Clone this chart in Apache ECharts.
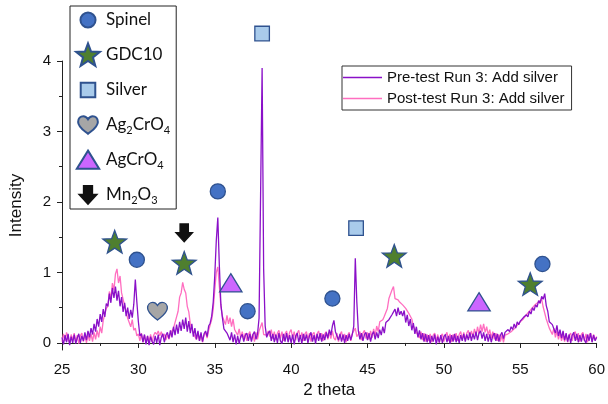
<!DOCTYPE html>
<html>
<head>
<meta charset="utf-8">
<script src="https://cdn.jsdelivr.net/npm/echarts@6/dist/echarts.min.js"></script>
<style>
  html, body { margin: 0; padding: 0; background: #fff; }
  #chart { width: 608px; height: 404px; }
</style>
</head>
<body>
<div id="chart"></div>
<script>
// XRD scans, sampled every 0.1 degree of 2 theta from 25 to 60
const thetaStart = 25.0;
const thetaStep = 0.1;

// Pre-test Run 3: Add silver
const preTest = [
  0.08, -0.02, 0.11, 0.01, 0.13, -0.03, 0.09, 0.00, 0.12, -0.01,
  0.07, 0.13, 0.00, 0.10, 0.03, 0.15, 0.04, 0.17, 0.08, 0.21,
  0.12, 0.27, 0.16, 0.34, 0.23, 0.41, 0.30, 0.48, 0.37, 0.56,
  0.52, 0.70, 0.57, 0.78, 0.64, 0.80, 0.60, 0.74, 0.52, 0.65,
  0.44, 0.57, 0.38, 0.50, 0.34, 0.47, 0.36, 0.55, 0.90, 0.58,
  0.30, 0.10, 0.13, 0.01, 0.12, -0.02, 0.10, -0.03, 0.09, 0.02,
  -0.02, 0.10, 0.00, 0.12, -0.03, 0.08, 0.13, 0.01, 0.11, 0.15,
  0.06, 0.18, 0.08, 0.23, 0.11, 0.26, 0.13, 0.30, 0.17, 0.33,
  0.20, 0.36, 0.16, 0.31, 0.14, 0.27, 0.09, 0.21, 0.05, 0.17,
  0.03, 0.15, 0.02, 0.13, 0.17, 0.09, 0.24, 0.28, 0.38, 0.58,
  0.95, 1.45, 1.78, 1.10, 0.55, 0.36, 0.20, 0.19, 0.14, 0.12,
  0.04, 0.15, 0.01, 0.12, -0.02, 0.10, -0.01, 0.09, 0.12, 0.02,
  0.11, 0.14, 0.03, 0.13, 0.02, 0.12, 0.16, 0.05, 0.13, 0.35,
  2.10, 3.90, 1.05, 0.24, 0.08, 0.14, 0.17, 0.03, 0.13, 0.01,
  0.12, 0.00, 0.14, 0.03, -0.01, 0.13, 0.02, 0.14, 0.01, 0.11,
  0.00, 0.12, -0.02, 0.10, 0.14, 0.01, 0.11, -0.01, 0.13, 0.03,
  0.12, 0.00, 0.10, 0.15, 0.02, 0.11, -0.01, 0.13, 0.03, 0.14,
  0.02, 0.12, 0.04, 0.15, 0.07, 0.19, 0.11, 0.24, 0.32, 0.16,
  0.14, 0.04, 0.13, 0.02, 0.12, 0.00, 0.11, 0.03, 0.13, 0.04,
  0.12, 0.24, 1.20, 0.58, 0.17, 0.05, 0.14, 0.03, 0.12, 0.15,
  0.04, 0.14, 0.02, 0.12, 0.16, 0.05, 0.15, 0.07, 0.19, 0.11,
  0.23, 0.14, 0.29, 0.27, 0.33, 0.34, 0.40, 0.42, 0.48, 0.38,
  0.50, 0.40, 0.45, 0.38, 0.46, 0.29, 0.40, 0.24, 0.34, 0.18,
  0.28, 0.13, 0.23, 0.08, 0.18, 0.05, 0.14, 0.02, 0.13, 0.01,
  0.11, -0.01, 0.10, 0.02, 0.12, -0.02, 0.09, 0.01, 0.11, 0.00,
  0.09, 0.12, 0.01, 0.10, -0.01, 0.11, 0.02, 0.13, 0.01, 0.10,
  0.00, 0.11, 0.03, 0.13, 0.02, 0.12, 0.04, 0.15, 0.03, 0.13,
  0.05, 0.16, 0.04, 0.14, 0.17, 0.06, 0.15, 0.03, 0.13, 0.02,
  0.12, 0.01, 0.10, 0.14, 0.03, 0.13, 0.02, 0.11, 0.15, 0.06,
  0.15, 0.13, 0.19, 0.16, 0.23, 0.19, 0.27, 0.21, 0.30, 0.26,
  0.31, 0.30, 0.36, 0.34, 0.40, 0.37, 0.45, 0.41, 0.50, 0.46,
  0.54, 0.51, 0.60, 0.56, 0.66, 0.62, 0.70, 0.53, 0.45, 0.30,
  0.30, 0.26, 0.25, 0.14, 0.25, 0.10, 0.19, 0.07, 0.17, 0.04,
  0.14, 0.02, 0.12, 0.00, 0.11, 0.15, 0.03, 0.13, 0.01, 0.11,
  0.02, 0.13, 0.04, 0.00, 0.12, 0.03, 0.14, 0.01, 0.11, 0.03,
  0.08
];

// Post-test Run 3: Add silver
const postTest = [
  0.02, 0.13, 0.03, 0.15, 0.05, 0.00, 0.12, 0.04, 0.14, 0.01,
  0.11, -0.01, 0.10, 0.14, 0.02, 0.12, 0.00, 0.11, 0.03, 0.13,
  0.02, 0.15, 0.05, 0.18, 0.08, 0.23, 0.14, 0.32, 0.33, 0.49,
  0.52, 0.73, 0.63, 0.85, 0.75, 0.98, 1.05, 0.85, 0.95, 0.71,
  0.71, 0.53, 0.52, 0.35, 0.36, 0.23, 0.33, 0.18, 0.21, 0.10,
  0.13, 0.03, 0.14, 0.01, 0.11, -0.01, 0.10, 0.02, 0.12, 0.01,
  0.11, 0.15, 0.12, 0.17, 0.10, 0.16, 0.08, 0.13, 0.04, 0.12,
  0.05, 0.13, 0.11, 0.21, 0.22, 0.37, 0.45, 0.65, 0.71, 0.86,
  0.76, 0.71, 0.52, 0.44, 0.27, 0.25, 0.13, 0.15, 0.05, 0.14,
  0.03, 0.12, 0.01, 0.11, 0.15, 0.07, 0.18, 0.18, 0.33, 0.48,
  0.75, 1.00, 1.08, 0.80, 0.52, 0.38, 0.36, 0.26, 0.39, 0.27,
  0.36, 0.23, 0.34, 0.19, 0.21, 0.11, 0.20, 0.07, 0.16, 0.05,
  0.14, 0.03, 0.12, 0.16, 0.04, 0.13, 0.02, 0.15, 0.05, 0.17,
  0.15, 0.29, 0.12, 0.13, 0.11, 0.17, 0.09, 0.19, 0.06, 0.16,
  0.04, 0.14, 0.18, 0.06, 0.16, 0.03, 0.13, 0.17, 0.05, 0.15,
  0.19, 0.07, 0.16, 0.04, 0.14, 0.18, 0.06, 0.15, 0.03, 0.13,
  0.16, 0.05, 0.14, 0.02, 0.12, 0.15, 0.04, 0.13, 0.17, 0.05,
  0.14, 0.03, 0.13, 0.16, 0.05, 0.15, 0.06, 0.17, 0.07, 0.04,
  0.14, 0.02, 0.12, 0.16, 0.04, 0.13, 0.01, 0.11, 0.15, 0.03,
  0.13, 0.17, 0.21, 0.09, 0.12, 0.16, 0.04, 0.14, 0.18, 0.06,
  0.15, 0.05, 0.17, 0.07, 0.20, 0.10, 0.24, 0.16, 0.30, 0.30,
  0.33, 0.38, 0.40, 0.49, 0.63, 0.65, 0.75, 0.80, 0.63, 0.61,
  0.61, 0.58, 0.57, 0.54, 0.54, 0.49, 0.47, 0.42, 0.40, 0.34,
  0.24, 0.25, 0.15, 0.17, 0.07, 0.16, 0.04, 0.14, 0.02, 0.12,
  0.03, 0.13, 0.01, 0.11, 0.14, 0.03, 0.12, 0.00, 0.10, 0.13,
  0.02, 0.11, 0.15, 0.03, 0.13, 0.01, 0.12, 0.04, 0.14, 0.03,
  0.12, 0.16, 0.05, 0.15, 0.04, 0.14, 0.18, 0.07, 0.17, 0.09,
  0.20, 0.10, 0.23, 0.13, 0.26, 0.16, 0.27, 0.15, 0.23, 0.11,
  0.19, 0.07, 0.16, 0.05, 0.14, 0.03, 0.12, 0.02, 0.11, 0.01,
  0.11, 0.09, 0.13, 0.12, 0.16, 0.16, 0.20, 0.21, 0.25, 0.26,
  0.30, 0.31, 0.34, 0.37, 0.40, 0.42, 0.45, 0.47, 0.50, 0.52,
  0.55, 0.55, 0.58, 0.59, 0.62, 0.51, 0.49, 0.34, 0.33, 0.21,
  0.23, 0.12, 0.21, 0.08, 0.17, 0.05, 0.15, 0.03, 0.13, 0.02,
  0.12, 0.01, 0.11, 0.14, 0.03, 0.13, 0.16, 0.04, 0.14, 0.02,
  0.12, 0.15, 0.03, 0.13, 0.01, 0.11, 0.14, 0.02, 0.12, 0.04,
  0.09
];

// Phase markers: [2 theta, height]
const spinelMarks = [[29.9, 1.18], [35.2, 2.15], [37.15, 0.45], [42.7, 0.63], [56.45, 1.12]];
const gdcMarks = [[28.45, 1.43], [33.0, 1.13], [46.75, 1.23], [55.65, 0.83]];
const silverMarks = [[38.1, 4.39], [44.25, 1.63]];
const ag2cro4Marks = [[31.25, 0.45]];
const agcro4Marks = [[36.05, 0.85], [52.3, 0.58]];
const mn2o3Marks = [[33.0, 1.56]];

const xTicks = [25, 30, 35, 40, 45, 50, 55, 60];
const yTicks = [0, 1, 2, 3, 4];
const yMinorTicks = [0.5, 1.5, 2.5, 3.5];

const preName = 'Pre-test Run 3: Add silver';
const postName = 'Post-test Run 3: Add silver';

// Symbols drawn inside a common 100x100 frame so one size fits all
const frame = 'M0 0M100 100';
const ICONS = {
  circle: 'path://' + frame + 'M79 50A29 29 0 1 1 21 50A29 29 0 1 1 79 50Z',
  star: 'path://' + frame + 'M50 5L61.8 36.8L95.6 38.2L69 59.2L78.2 91.8L50 73L21.8 91.8L31 59.2L4.4 38.2L38.2 36.8Z',
  square: 'path://' + frame + 'M22 22H78V78H22Z',
  heart: 'path://' + frame + 'M50 84C36 72 12 58 12 38C12 24 21 16 32 16C40 16 46 21 50 28C54 21 60 16 68 16C79 16 88 24 88 38C88 58 64 72 50 84Z',
  triangle: 'path://' + frame + 'M50 14L93 84L7 84Z',
  arrow: 'path://' + frame + 'M34 15H66V49H82L50 84L18 49H34Z'
};
// Plain stroke sample for the scan legend
const lineIcon = 'path://M0 0H39V1.6H0Z';

const edge = '#2F528F';
const phases = [
  { name: 'Spinel', data: spinelMarks, icon: ICONS.circle, fill: '#4472C4', stroke: edge, label: 'Spinel' },
  { name: 'GDC10', data: gdcMarks, icon: ICONS.star, fill: '#4F7F2F', stroke: edge, label: 'GDC10' },
  { name: 'Silver', data: silverMarks, icon: ICONS.square, fill: '#A9CBEB', stroke: edge, label: 'Silver' },
  { name: 'Ag2CrO4', data: ag2cro4Marks, icon: ICONS.heart, fill: '#A6A6A6', stroke: edge, label: '{n|Ag}{s|2}{n|CrO}{s|4}' },
  { name: 'AgCrO4', data: agcro4Marks, icon: ICONS.triangle, fill: '#CC66FF', stroke: edge, label: '{n|AgCrO}{s|4}' },
  { name: 'Mn2O3', data: mn2o3Marks, icon: ICONS.arrow, fill: '#111111', stroke: '#111111', label: '{n|Mn}{s|2}{n|O}{s|3}' }
];

function toPairs(values) {
  return values.map((v, i) => [+(thetaStart + i * thetaStep).toFixed(2), v]);
}

const chart = echarts.init(document.getElementById('chart'), null, { renderer: 'canvas' });

const axisColor = '#222';
const labelFont = 'Liberation Sans, Arial, sans-serif';
const preColor = '#8A10C8';
const postColor = '#FF6EC0';

const option = {
  backgroundColor: '#fff',
  animation: false,
  grid: { left: 61, right: 9, top: 61, bottom: 54 },
  xAxis: {
    type: 'value', min: 25, max: 60, interval: 5,
    name: '2 theta', nameLocation: 'middle', nameGap: 29,
    nameTextStyle: { fontFamily: labelFont, fontSize: 17, color: '#111' },
    axisLine: { lineStyle: { color: axisColor, width: 1 } },
    axisTick: { length: 5, lineStyle: { color: axisColor } },
    minorTick: { show: true, splitNumber: 2, length: 3, lineStyle: { color: axisColor } },
    axisLabel: { margin: 12, fontFamily: labelFont, fontSize: 15, color: '#111', customValues: xTicks },
    splitLine: { show: false }
  },
  yAxis: [
    {
      type: 'value', min: -0.1, max: 4,
      name: 'Intensity', nameLocation: 'middle', nameGap: 37,
      nameTextStyle: { fontFamily: labelFont, fontSize: 17, color: '#111' },
      axisLine: { show: true, lineStyle: { color: axisColor, width: 1 } },
      axisTick: { show: true, length: 5, customValues: yTicks, lineStyle: { color: axisColor } },
      axisLabel: { margin: 11, fontFamily: labelFont, fontSize: 15, color: '#111', customValues: yTicks },
      splitLine: { show: false }
    },
    {
      type: 'value', min: -0.1, max: 4, position: 'left',
      axisLine: { show: false },
      axisTick: { show: true, length: 3, customValues: yMinorTicks, lineStyle: { color: axisColor } },
      axisLabel: { show: false },
      splitLine: { show: false }
    }
  ],
  legend: [
    {
      orient: 'vertical', left: 70, top: 6, padding: [0, 6, 0, 4],
      itemWidth: 26, itemHeight: 26, itemGap: 7,
      borderColor: '#222', borderWidth: 1,
      selectedMode: false,
      data: phases.map(p => ({ name: p.name, icon: p.icon })),
      formatter: name => phases.find(p => p.name === name).label,
      textStyle: {
        fontFamily: 'Lato, sans-serif', fontSize: 17, color: '#111',
        rich: {
          n: { fontFamily: 'Lato, sans-serif', fontSize: 17, color: '#111' },
          s: { fontFamily: 'Lato, sans-serif', fontSize: 11, color: '#111', padding: [10, 0, 0, 0] }
        }
      }
    },
    {
      orient: 'vertical', left: 342, top: 66, padding: [3, 7, 3, 1],
      itemWidth: 39, itemHeight: 14, itemGap: 4,
      borderColor: '#333', borderWidth: 1,
      selectedMode: false,
      data: [
        { name: preName, icon: lineIcon, itemStyle: { color: preColor, borderWidth: 0 } },
        { name: postName, icon: lineIcon, itemStyle: { color: postColor, borderWidth: 0 } }
      ],
      textStyle: { fontFamily: labelFont, fontSize: 15, color: '#111', lineHeight: 17 }
    }
  ],
  series: [
    {
      name: postName, type: 'line', data: toPairs(postTest),
      symbol: 'none', showSymbol: false, sampling: 'none',
      lineStyle: { color: postColor, width: 1.3 },
      itemStyle: { color: postColor },
      z: 2
    },
    {
      name: preName, type: 'line', data: toPairs(preTest),
      symbol: 'none', showSymbol: false, sampling: 'none',
      lineStyle: { color: preColor, width: 1.3 },
      itemStyle: { color: preColor },
      z: 3
    }
  ].concat(phases.map(p => ({
    name: p.name, type: 'scatter', data: p.data,
    symbol: p.icon, symbolSize: 26, clip: false,
    itemStyle: { color: p.fill, borderColor: p.stroke, borderWidth: 1.3, opacity: 1 },
    emphasis: { disabled: true },
    z: 5
  })))
};

chart.setOption(option);
</script>
</body>
</html>
